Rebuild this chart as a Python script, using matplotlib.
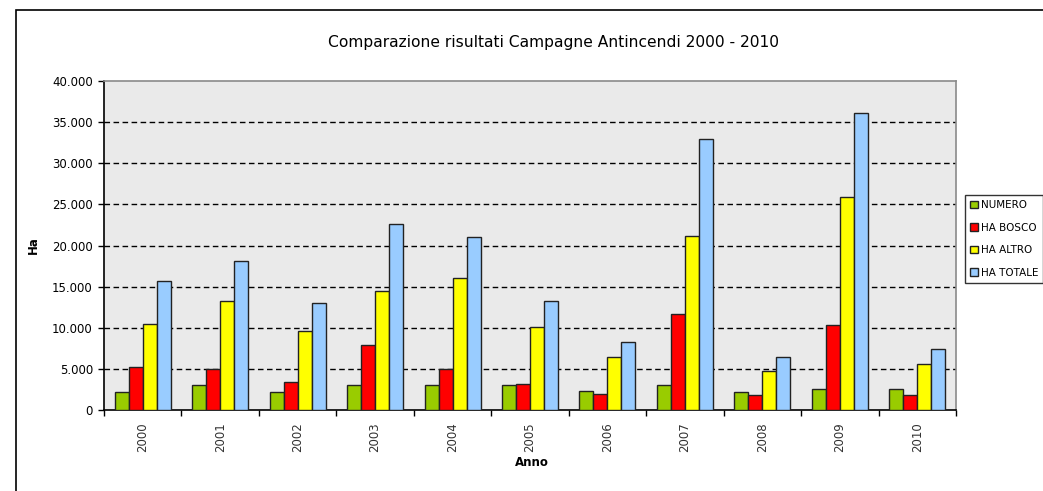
import numpy as np
import matplotlib
matplotlib.use('Agg')
from matplotlib import pyplot as plt
from matplotlib.patches import Rectangle
from matplotlib.ticker import FuncFormatter, MultipleLocator

# data
anni = ['2000', '2001', '2002', '2003', '2004', '2005', '2006', '2007', '2008', '2009', '2010']
numero = [2150, 3000, 2150, 3000, 3000, 3000, 2300, 3000, 2150, 2500, 2500]
ha_bosco = [5200, 4950, 3370, 7900, 5000, 3160, 2000, 11670, 1820, 10300, 1820]
ha_altro = [10500, 13300, 9650, 14500, 16050, 10100, 6450, 21200, 4700, 25900, 5550]
ha_totale = [15700, 18100, 13000, 22600, 21000, 13200, 8270, 32900, 6440, 36150, 7460]

serie = ['NUMERO', 'HA BOSCO', 'HA ALTRO', 'HA TOTALE']
colori = ['#99cc00', '#ff0000', '#ffff00', '#99ccff']

W, H = 1043, 491
plt.rcParams['font.family'] = ['DejaVu Sans']
fig = plt.figure(figsize=(W / 100, H / 100), dpi=100)

# outer chart frame (runs off the right and bottom edges)
fig.patches.append(Rectangle((16 / W, -0.1), 1.2, 1 - 10 / H + 0.1, transform=fig.transFigure,
                             fill=False, edgecolor='black', linewidth=1.2))

ax = fig.add_axes([104 / W, 1 - 410 / H, 852 / W, 329 / H])
ax.set_facecolor('#eaeaea')

x = np.arange(len(anni))
w = 0.181
valori = [numero, ha_bosco, ha_altro, ha_totale]
for i, (vals, c, lab) in enumerate(zip(valori, colori, serie)):
    ax.bar(x + (i - 1.5) * w, vals, w, color=c, edgecolor='#222222', linewidth=1.0,
           label=lab, zorder=3)

ax.set_xlim(-0.5, len(anni) - 0.5)
ax.set_ylim(0, 40000)
ax.yaxis.set_major_locator(MultipleLocator(5000))
ax.yaxis.set_major_formatter(FuncFormatter(lambda v, p: '0' if v == 0 else f'{int(v):,}'.replace(',', '.')))
for yv in range(5000, 40000, 5000):
    ax.axhline(yv, color='black', linestyle=(0, (4, 2.5)), linewidth=1.0, zorder=2)

# category ticks between groups, labels at group centres
ax.set_xticks(np.arange(-0.5, len(anni), 1.0))
ax.set_xticklabels([])
ax.set_xticks(x, minor=True)
ax.set_xticklabels(anni, minor=True, rotation=90, fontsize=8.5, color='#333333')
ax.tick_params(axis='x', which='minor', length=0, pad=9)
ax.tick_params(axis='x', which='major', length=4, width=1, direction='out')
ax.tick_params(axis='y', length=4, width=1, direction='out', labelsize=8.5, colors='black', pad=4)

for s in ['top', 'right']:
    ax.spines[s].set_color('#8a8a8a')
    ax.spines[s].set_linewidth(1.2)
for s in ['left', 'bottom']:
    ax.spines[s].set_color('black')
    ax.spines[s].set_linewidth(1.2)

fig.text(553 / W, 1 - 42 / H, 'Comparazione risultati Campagne Antincendi 2000 - 2010',
         ha='center', va='center', fontsize=11.2)
fig.text(33 / W, 1 - 245 / H, 'Ha', rotation=90, ha='center', va='center', fontsize=8.5,
         fontweight='bold')
fig.text(532 / W, 1 - 463 / H, 'Anno', ha='center', va='center', fontsize=8.5, fontweight='bold')

leg = fig.legend(loc='upper left', bbox_to_anchor=(965 / W, 1 - 195 / H), fontsize=7.5,
                 frameon=True, fancybox=False, edgecolor='black', handlelength=0.75,
                 handleheight=0.75, handletextpad=0.25, labelspacing=1.2, borderpad=0.5,
                 borderaxespad=0)
leg.get_frame().set_linewidth(1.0)

fig.savefig('out.png', dpi=100)
